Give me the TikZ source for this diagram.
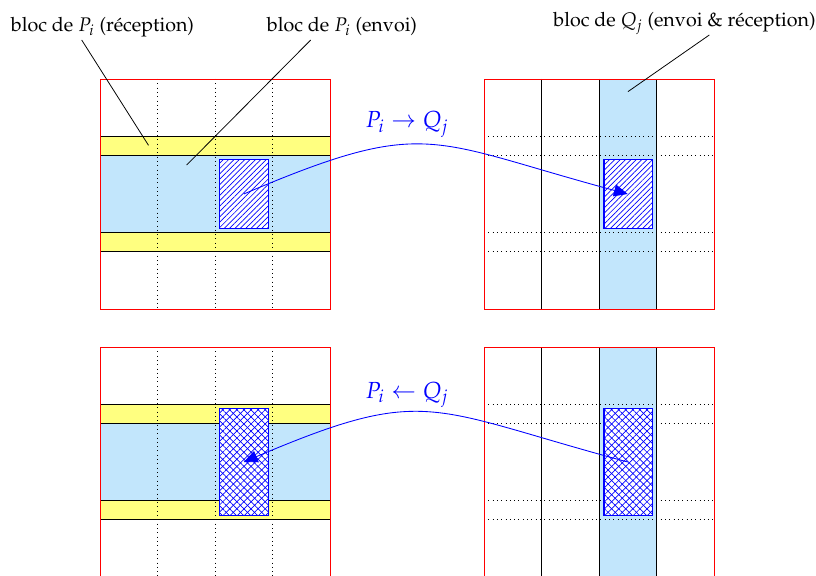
\documentclass[tikz,border=0pt]{standalone}
\usepackage[T1]{fontenc}
\usepackage{mathpazo}
\usetikzlibrary{patterns,patterns.meta,arrows.meta}
\definecolor{lblue}{RGB}{194,230,252}
\definecolor{lyellow}{RGB}{255,255,128}
\tikzset{
  band/.style={fill=lyellow,draw=black,line width=0.5pt},
  frame/.style={draw=red,line width=0.5pt},
  gridline/.style={draw=black,line width=0.45pt},
  dotline/.style={draw=black,dotted,line width=0.5pt},
  hatchS/.style={draw=blue,line width=0.6pt,preaction={fill=white},
     pattern={Lines[angle=45,distance=2.2pt,line width=0.4pt]},pattern color=blue},
  hatchX/.style={draw=blue,line width=0.6pt,preaction={fill=white},
     pattern={Lines[angle=45,distance=2.9pt,line width=0.4pt]},pattern color=blue,
     postaction={pattern={Lines[angle=-45,distance=2.9pt,line width=0.4pt]},pattern color=blue}},
  conn/.style={draw=blue,line width=0.5pt,-{Triangle[length=8pt,width=7pt]}},
  lbl/.style={anchor=base,inner sep=0pt,font=\fontsize{11.4}{14}\selectfont},
  xlbl/.style={anchor=base,inner sep=0pt,text=blue,font=\fontsize{13.5}{16}\selectfont},
  ptr/.style={draw=black,line width=0.45pt},
}
\begin{document}
\begin{tikzpicture}[x=0.58pt,y=-0.58pt]
\useasboundingbox (0,0) rectangle (816,576);

% ---------- top-left block ----------
\begin{scope}[shift={(100,79)},scale=19.1667]
  \fill[lblue] (0,4) rectangle (12,8);
  \draw[band] (0,3) rectangle (12,4);
  \draw[band] (0,8) rectangle (12,9);
  \foreach \x in {3,6,9} \draw[dotline] (\x,0) -- (\x,12);
  \draw[hatchS] (6.24,4.22) rectangle (8.79,7.78);
  \coordinate (sendA) at (7.5,6);
  \coordinate (tipR) at (2.53,3.46);
  \coordinate (tipE) at (4.52,4.49);
  \draw[frame] (0,0) rectangle (12,12);
\end{scope}

% ---------- top-right block ----------
\begin{scope}[shift={(484,79)},scale=19.1667]
  \fill[lblue] (6,0) rectangle (9,12);
  \foreach \x in {3,6,9} \draw[gridline] (\x,0) -- (\x,12);
  \foreach \y in {3,4,8,9} \draw[dotline] (0,\y) -- (12,\y);
  \draw[hatchS] (6.26,4.22) rectangle (8.79,7.78);
  \coordinate (recvA) at (7.5,6);
  \coordinate (tipQ) at (7.51,0.66);
  \draw[frame] (0,0) rectangle (12,12);
\end{scope}

% ---------- bottom-left block ----------
\begin{scope}[shift={(100,347)},scale=19.1667]
  \fill[lblue] (0,4) rectangle (12,8);
  \draw[band] (0,3) rectangle (12,4);
  \draw[band] (0,8) rectangle (12,9);
  \foreach \x in {3,6,9} \draw[dotline] (\x,0) -- (\x,12);
  \draw[hatchX] (6.24,3.22) rectangle (8.79,8.78);
  \coordinate (sendB) at (7.5,6);
  \draw[frame] (0,0) rectangle (12,12);
\end{scope}

% ---------- bottom-right block ----------
\begin{scope}[shift={(484,347)},scale=19.1667]
  \fill[lblue] (6,0) rectangle (9,12);
  \foreach \x in {3,6,9} \draw[gridline] (\x,0) -- (\x,12);
  \foreach \y in {3,4,8,9} \draw[dotline] (0,\y) -- (12,\y);
  \draw[hatchX] (6.26,3.22) rectangle (8.79,8.78);
  \coordinate (recvB) at (7.5,6);
  \draw[frame] (0,0) rectangle (12,12);
\end{scope}

% ---------- labels ----------
\node[lbl] (labR) at (102.5,32) {bloc de $P_i$ (r\'eception)};
\node[lbl] (labE) at (342,32) {bloc de $P_i$ (envoi)};
\node[lbl] (labQ) at (684.5,27) {bloc de $Q_j$ (envoi \& r\'eception)};
\coordinate (srcR) at (81.7,40);
\coordinate (srcE) at (310.7,40);
\coordinate (srcQ) at (709.3,35);
\draw[ptr] (srcR) -- (tipR);
\draw[ptr] (srcE) -- (tipE);
\draw[ptr] (srcQ) -- (tipQ);

% ---------- exchanges ----------
\draw[conn] (sendA) .. controls +(-23:200) and +(-165:207) .. (recvA);
\node[xlbl] (labPQ) at (407,128) {$P_i \rightarrow Q_j$};
\draw[conn] (recvB) .. controls +(-165:207) and +(-23:200) .. (sendB);
\node[xlbl] (labQP) at (407,398) {$P_i \leftarrow Q_j$};
\end{tikzpicture}
\end{document}
